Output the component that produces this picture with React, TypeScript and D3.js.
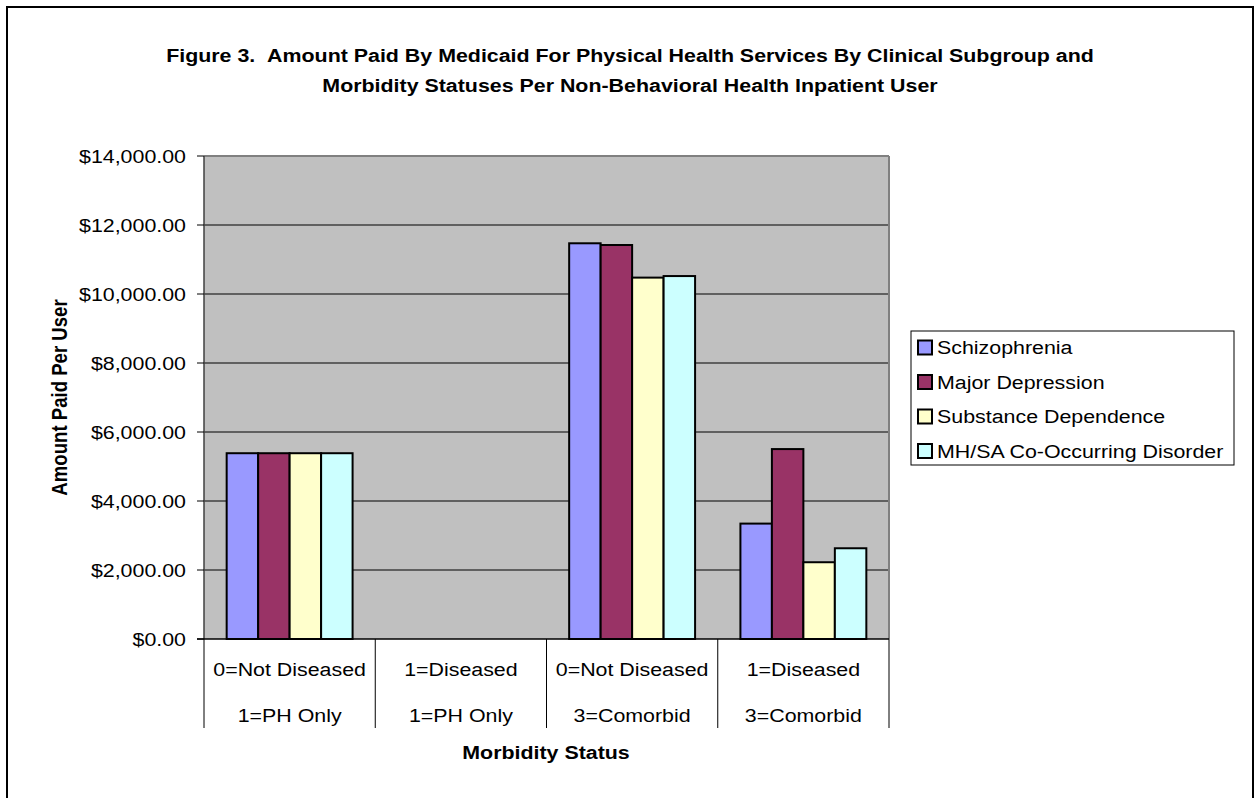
import React from "react";
import * as d3 from "d3";

const categories = ["0=Not Diseased|1=PH Only", "1=Diseased|1=PH Only", "0=Not Diseased|3=Comorbid", "1=Diseased|3=Comorbid"];
const seriesNames = ["Schizophrenia", "Major Depression", "Substance Dependence", "MH/SA Co-Occurring Disorder"];
const schizophrenia = [5385, 0, 11470, 3345];
const majorDepression = [5385, 0, 11420, 5505];
const substanceDependence = [5385, 0, 10475, 2225];
const coOccurring = [5385, 0, 10520, 2630];
const yTicks = [0, 2000, 4000, 6000, 8000, 10000, 12000, 14000];
const colors = ["#9999FF", "#993366", "#FFFFCC", "#CCFFFF"];

const W = 1255, H = 798;
const plot = { left: 204, right: 889, top: 156, bottom: 639 };
const FONT = "'Liberation Sans', Arial, sans-serif";
const FS = 18.6;
const SX = 1.15;

function T(props: { x: number; y: number; anchor?: string; bold?: boolean; children: React.ReactNode; rotate?: boolean }) {
  const { x, y, anchor = "start", bold = false, children, rotate = false } = props;
  return (
    <text transform={`translate(${x},${y}) scale(${SX},1)${rotate ? " rotate(-90)" : ""}`} textAnchor={anchor}
      dy="0.35em" fontSize={FS} fontWeight={bold ? "bold" : "normal"}>
      {children}
    </text>
  );
}

export default function App() {
  const values = [schizophrenia, majorDepression, substanceDependence, coOccurring];
  const x0 = d3.scaleBand<string>().domain(categories).range([plot.left, plot.right]).padding(0);
  const x1 = d3.scaleBand<string>().domain(seriesNames).range([0, x0.bandwidth()]).paddingInner(0).paddingOuter(0.72);
  const y = d3.scaleLinear().domain([0, 14000]).range([plot.bottom, plot.top]);
  const fmt = (v: number) => "$" + d3.format(",.2f")(v);

  return (
    <div style={{ position: "absolute", left: 0, top: 0 }}>
      <svg width={W} height={H} style={{ display: "block", background: "#fff" }} fontFamily={FONT}>
        <rect x={7} y={7} width={1246} height={H + 10} fill="#fff" stroke="#000" strokeWidth={2} />
        <T x={630} y={55} anchor="middle" bold>
          Figure 3.{"\u00a0\u00a0"}Amount Paid By Medicaid For Physical Health Services By Clinical Subgroup and
        </T>
        <T x={630} y={85} anchor="middle" bold>
          Morbidity Statuses Per Non-Behavioral Health Inpatient User
        </T>

        <rect x={plot.left} y={plot.top} width={plot.right - plot.left} height={plot.bottom - plot.top} fill="#C0C0C0" />
        {yTicks.filter((t) => t > 0).map((t) => (
          <line key={t} x1={plot.left} x2={plot.right} y1={y(t)} y2={y(t)} stroke="#000" strokeWidth={1.2} />
        ))}
        <line x1={plot.left} x2={plot.right} y1={plot.top} y2={plot.top} stroke="#808080" strokeWidth={2} />
        <line x1={plot.right} x2={plot.right} y1={plot.top} y2={plot.bottom} stroke="#808080" strokeWidth={2} />
        <line x1={plot.left} x2={plot.left} y1={plot.top} y2={plot.bottom} stroke="#404040" strokeWidth={1.5} />

        {categories.map((c, ci) =>
          seriesNames.map((s, si) => {
            const v = values[si][ci];
            if (v <= 0) return null;
            return (
              <rect key={c + s} x={(x0(c) as number) + (x1(s) as number)} y={y(v)} width={x1.bandwidth()}
                height={plot.bottom - y(v)} fill={colors[si]} stroke="#000" strokeWidth={2} />
            );
          })
        )}

        {yTicks.map((t) => (
          <g key={t}>
            <line x1={197} x2={plot.left} y1={y(t)} y2={y(t)} stroke="#000" strokeWidth={1} />
            <T x={186} y={y(t)} anchor="end">{fmt(t)}</T>
          </g>
        ))}

        <line x1={197} x2={plot.right} y1={plot.bottom} y2={plot.bottom} stroke="#000" strokeWidth={1.5} />
        {[...categories.map((c) => x0(c) as number), plot.right].map((xx, i) => (
          <line key={i} x1={xx} x2={xx} y1={plot.bottom} y2={728} stroke="#000" strokeWidth={1} />
        ))}
        {categories.map((c) => {
          const [l1, l2] = c.split("|");
          const cx = (x0(c) as number) + x0.bandwidth() / 2;
          return (
            <g key={c}>
              <T x={cx} y={669} anchor="middle">{l1}</T>
              <T x={cx} y={715} anchor="middle">{l2}</T>
            </g>
          );
        })}
        <T x={546} y={752} anchor="middle" bold>Morbidity Status</T>
        <T x={60} y={(plot.top + plot.bottom) / 2} anchor="middle" bold rotate>Amount Paid Per User</T>

        <rect x={911} y={331} width={323} height={134} fill="#fff" stroke="#000" strokeWidth={1} />
        {seriesNames.map((s, i) => (
          <g key={s}>
            <rect x={918} y={340.5 + i * 34.5} width={14} height={14} fill={colors[i]} stroke="#000" strokeWidth={2} />
            <T x={937} y={347.5 + i * 34.5}>{s}</T>
          </g>
        ))}
      </svg>
    </div>
  );
}
